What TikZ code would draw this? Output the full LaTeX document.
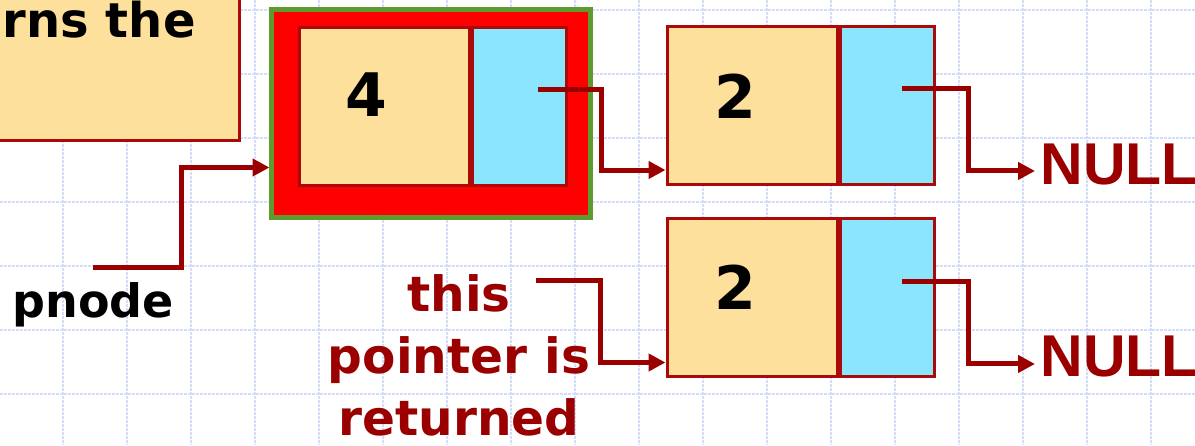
\documentclass[tikz,border=0pt]{standalone}
\usepackage{fontspec}
\setmainfont{DejaVu Sans}
\newfontfamily\nullfnt{Liberation Sans}
\usetikzlibrary{arrows.meta,calc}
\definecolor{nodeyellow}{RGB}{253,224,155}
\definecolor{nodecyan}{RGB}{139,229,253}
\definecolor{darkred}{RGB}{155,0,0}
\definecolor{boxred}{RGB}{170,10,10}
\definecolor{framegreen}{RGB}{94,154,46}
\definecolor{gridblue}{RGB}{214,221,251}
\begin{document}
\begin{tikzpicture}[x=0.5pt,y=-0.5pt,
  gridline/.style={gridblue, line width=1.1pt, dash pattern=on 1.5pt off 0.5pt},
  notebox/.style={draw=boxred, line width=1.5pt, fill=nodeyellow, inner sep=0pt},
  framebox/.style={draw=framegreen, line width=2.5pt, fill=red, inner sep=0pt,
    minimum width=159.5pt, minimum height=104pt},
  datacell/.style={draw=boxred, line width=1.5pt, fill=nodeyellow,
    minimum width=85pt, minimum height=79pt, inner sep=0pt},
  ptrcell/.style={draw=boxred, line width=1.5pt, fill=nodecyan,
    minimum width=47pt, minimum height=79pt, inner sep=0pt},
  digit/.style={font=\bfseries\fontsize{30}{30}\selectfont, inner sep=0pt},
  comic/.style={font=\bfseries\fontsize{23}{28}\selectfont, inner sep=0pt},
  lbltext/.style={font=\bfseries\fontsize{24.3}{31}\selectfont, text=darkred,
    inner sep=0pt, align=center},
  nulltext/.style={font=\nullfnt\bfseries\fontsize{29.5}{30}\selectfont,
    text=darkred, inner sep=0pt},
  conn/.style={darkred, line width=2.5pt, -{Triangle[length=8.5pt,width=8.5pt]}}
]
\useasboundingbox (0,0) rectangle (1195,445);
\clip (0,0) rectangle (1195,445);
\fill[white] (0,0) rectangle (1195,445);
% grid
\foreach \gx in {-1,63,...,1215} \draw[gridline] (\gx,0) -- (\gx,445);
\foreach \gy in {10,74,...,458} \draw[gridline] (0,\gy) -- (1195,\gy);

% note box (cut off)
\node[notebox, anchor=south east, minimum width=140pt, minimum height=90pt] (note) at (240.5,141.5) {};
\node[comic, font=\bfseries\fontsize{24}{28}\selectfont, anchor=base east] (notetext) at (196,37) {rns the};

% first node with highlight frame
\node[framebox] (fr1) at (431,113.5) {};
\node[datacell] (d1) at (384,106) {};
\node[ptrcell, anchor=west] (p1) at (d1.east) {};
\node[digit] (v1) at ($(d1.center)+(-18,-11)$) {4};

% second node
\node[datacell] (d2) at (752,105.5) {};
\node[ptrcell, anchor=west] (p2) at (d2.east) {};
\node[digit] (v2) at ($(d2.center)+(-17,-9)$) {2};

% third node
\node[datacell] (d3) at (752,297.5) {};
\node[ptrcell, anchor=west] (p3) at (d3.east) {};
\node[digit] (v3) at ($(d3.center)+(-17,-10)$) {2};

% NULL labels
\node[nulltext, anchor=base west] (null1) at (1040,184) {NULL};
\node[nulltext, anchor=base west] (null2) at (1040,376) {NULL};

% pnode label
\node[comic, anchor=base west] (pn) at (12,317) {pnode};

% returned label
\node[lbltext] (ret) at (459,355) {this\\pointer is\\returned};

% connectors
\coordinate (ps) at ($(pn.north)+(0,-14)$);
\coordinate (pe) at ($(fr1.west)+(0.5,54)$);
\draw[conn] (ps) -| ($(ps)!.5!(pe)$) |- (pe);

\coordinate (s1) at ($(p1.center)+(19,-17)$);
\coordinate (e1) at ($(d2.west)+(0,64.5)$);
\draw[conn] (s1) -| ($(s1)!.5!(e1)$) |- (e1);

\coordinate (s2) at ($(p2.center)+(15,-17)$);
\coordinate (e2) at ($(null1.south west)+(-5,-14)$);
\draw[conn] (s2) -| ($(s2)!.5!(e2)$) |- (e2);

\coordinate (s3) at ($(p3.center)+(15,-16)$);
\coordinate (e3) at ($(null2.south west)+(-5,-13)$);
\draw[conn] (s3) -| ($(s3)!.5!(e3)$) |- (e3);

\coordinate (s4) at ($(ret.north)+(77,7)$);
\coordinate (e4) at ($(d3.west)+(0,65)$);
\draw[conn] (s4) -| ($(s4)!.5!(e4)$) |- (e4);
\end{tikzpicture}
\end{document}
